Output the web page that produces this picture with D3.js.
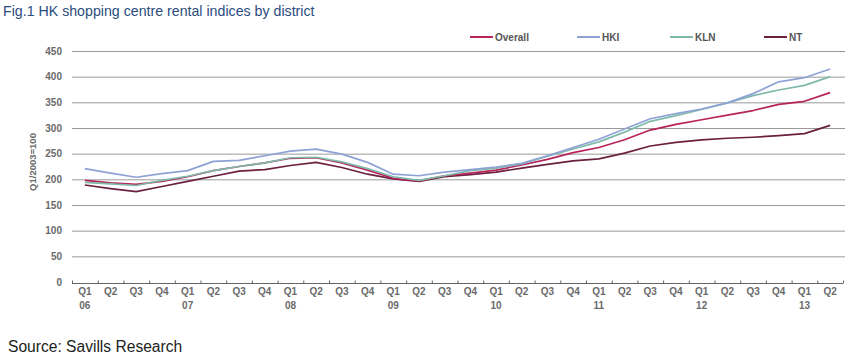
<!DOCTYPE html>
<html><head><meta charset="utf-8">
<script src="https://cdn.jsdelivr.net/npm/d3@7"></script>
<style>body{margin:0;background:#fff;}svg{display:block;font-family:"Liberation Sans",Arial,sans-serif;}</style>
</head><body><svg id="c" width="854" height="357"></svg>
<script>
const quarters = ["Q1","Q2","Q3","Q4","Q1","Q2","Q3","Q4","Q1","Q2","Q3","Q4","Q1","Q2","Q3","Q4","Q1","Q2","Q3","Q4","Q1","Q2","Q3","Q4","Q1","Q2","Q3","Q4","Q1","Q2"];
const years = ["06","","","","07","","","","08","","","","09","","","","10","","","","11","","","","12","","","","13",""];
const seriesNames = ["Overall","HKI","KLN","NT"];
const overall = [198,193,190,196,205,217,225,232,241,242,232,218,202,197,207,212,218,228,239,252,262,277,296,307,316,325,334,346,352,369];
const hki = [221,212,204,211,217,235,237,246,255,259,249,233,210,207,214,219,224,231,246,262,278,298,318,328,337,349,367,390,398,415];
const kln = [194,191,188,198,206,217,225,232,242,243,234,221,205,198,207,217,222,230,245,259,273,292,313,324,336,349,363,374,383,400];
const nt = [189,182,176,186,196,206,216,219,227,233,223,210,201,196,205,209,214,222,229,236,240,251,265,272,277,280,282,285,289,305];
const yTicks = [0,50,100,150,200,250,300,350,400,450];
const colors = ["#b8235a","#8ea2d6","#7fb9a9","#6b2040"];

const svg = d3.select("#c");
const idx = d3.range(quarters.length);
const x = d3.scaleBand().domain(idx).range([72,843]).padding(0);
const y = d3.scaleLinear().domain([0,450]).range([282,51]);

// title
svg.append("text").attr("x",3).attr("y",16).attr("font-size",14.2).attr("fill","#2b4c7e").text("Fig.1 HK shopping centre rental indices by district");
// source
svg.append("text").attr("x",8).attr("y",352).attr("font-size",15.6).attr("fill","#222").text("Source: Savills Research");

// gridlines
svg.append("g").selectAll("line").data(yTicks.filter(d=>d>0)).join("line")
  .attr("x1",72).attr("x2",845).attr("y1",d=>y(d)+0.5).attr("y2",d=>y(d)+0.5)
  .attr("stroke","#9a9a9a").attr("stroke-width",1);

// y labels
svg.append("g").selectAll("text").data(yTicks).join("text")
  .attr("x",62).attr("y",d=>y(d)+3.5).attr("text-anchor","end")
  .attr("font-size",10).attr("font-weight","bold").attr("fill","#6a6a6a").text(d=>d);

// y title
svg.append("text").attr("transform","translate(36,162) rotate(-90)").attr("text-anchor","middle")
  .attr("font-size",9.5).attr("font-weight","bold").attr("fill","#6a6a6a").text("Q1/2003=100");

// x axis
const xa = svg.append("g").attr("transform","translate(0,283)");
xa.append("line").attr("x1",72).attr("x2",843).attr("y1",0.5).attr("y2",0.5).attr("stroke","#666");
xa.selectAll("line.t").data(d3.range(quarters.length+1)).join("line").attr("class","t")
  .attr("x1",d=>72+d*x.bandwidth()+0.5).attr("x2",d=>72+d*x.bandwidth()+0.5)
  .attr("y1",-2.5).attr("y2",0.5).attr("stroke","#666");
xa.selectAll("text.q").data(idx).join("text").attr("class","q")
  .attr("x",d=>x(d)+x.bandwidth()/2).attr("y",12).attr("text-anchor","middle")
  .attr("font-size",10).attr("font-weight","bold").attr("fill","#6a6a6a").text(d=>quarters[d]);
xa.selectAll("text.yr").data(idx.filter(d=>years[d])).join("text").attr("class","yr")
  .attr("x",d=>x(d)+x.bandwidth()/2).attr("y",26).attr("text-anchor","middle")
  .attr("font-size",10).attr("font-weight","bold").attr("fill","#6a6a6a").text(d=>years[d]);

// lines
const data = [overall,hki,kln,nt];
const line = d3.line().x((d,i)=>x(i)+x.bandwidth()/2).y(d=>y(d));
const order = [3,0,2,1];
order.forEach(k=>{
  svg.append("path").datum(data[k]).attr("d",line).attr("fill","none")
    .attr("stroke",colors[k]).attr("stroke-width",1.7).attr("stroke-linejoin","round");
});

// legend
const legX = [470,577,670,764];
seriesNames.forEach((n,k)=>{
  svg.append("line").attr("x1",legX[k]).attr("x2",legX[k]+23).attr("y1",37).attr("y2",37)
    .attr("stroke",colors[k]).attr("stroke-width",2);
  svg.append("text").attr("x",legX[k]+25).attr("y",40.5).attr("font-size",10).attr("font-weight","bold")
    .attr("fill","#555").text(n);
});
</script></body></html>
